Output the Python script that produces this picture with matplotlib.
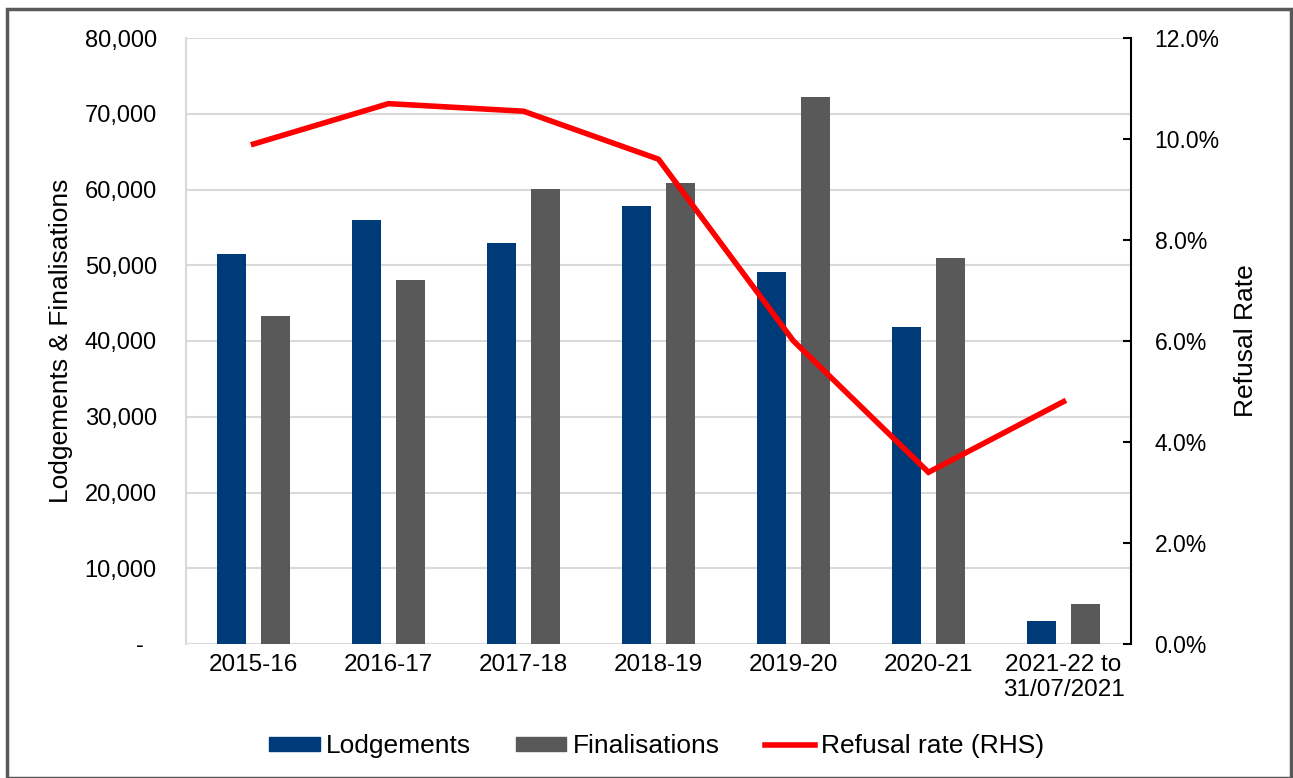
import matplotlib.pyplot as plt
import matplotlib.ticker as mticker
from matplotlib.patches import Rectangle
from matplotlib.lines import Line2D
import numpy as np

plt.rcParams["font.family"] = ["Liberation Sans", "DejaVu Sans"]

years = ["2015-16", "2016-17", "2017-18", "2018-19", "2019-20", "2020-21",
         "2021-22 to\n31/07/2021"]
lodgements = [51500, 56000, 53000, 57800, 49100, 41800, 3100]
finalisations = [43300, 48000, 60100, 60900, 72200, 51000, 5300]
refusal_rate = [9.9, 10.7, 10.55, 9.6, 6.0, 3.4, 4.8]

blue = "#003B79"
grey = "#595959"
red = "#FF0000"

fig = plt.figure(figsize=(12.93, 7.78), dpi=100)
ax = fig.add_axes([186 / 1293, 1 - 644 / 778, 945 / 1293, 606 / 778])
ax2 = ax.twinx()

x = np.arange(len(years))
w = 0.215
ax.bar(x - 0.163, lodgements, width=w, color=blue, zorder=3)
ax.bar(x + 0.163, finalisations, width=w, color=grey, zorder=3)

ax.set_xlim(-0.5, len(years) - 0.5)
ax.set_ylim(0, 80000)
ax.set_yticks(np.arange(0, 80001, 10000))
# accounting style: zero shown as a dash
ax.yaxis.set_major_formatter(mticker.FuncFormatter(
    lambda v, p: "-  " if v == 0 else f"{v:,.0f}"))
ax.grid(axis="y", color="#D9D9D9", linewidth=1.5, zorder=0)
ax.set_xticks(x)
ax.set_xticklabels(years, fontsize=17.5)
ax.tick_params(axis="y", length=0, labelsize=17, pad=21)
ax.tick_params(axis="x", length=0, pad=7)
ax.set_ylabel("Lodgements & Finalisations", fontsize=19, labelpad=8)
for s in ["top", "bottom", "right"]:
    ax.spines[s].set_visible(False)
ax.spines["left"].set_color("#D9D9D9")
ax.spines["left"].set_linewidth(1.5)

ax2.plot(x, refusal_rate, color=red, linewidth=4, solid_joinstyle="miter", zorder=4)
ax2.set_ylim(0, 12)
ax2.set_yticks(np.arange(0, 12.1, 2))
ax2.yaxis.set_major_formatter(mticker.FuncFormatter(lambda v, p: f"{v:.1f}%"))
ax2.tick_params(axis="y", direction="in", length=6, width=1.5, labelsize=16.5, pad=17)
ax2.set_ylabel("Refusal Rate", fontsize=19, labelpad=10)
for s in ["top", "bottom", "left"]:
    ax2.spines[s].set_visible(False)
ax2.spines["right"].set_linewidth(1.5)

handles = [
    Rectangle((0, 0), 1, 1, color=blue),
    Rectangle((0, 0), 1, 1, color=grey),
    Line2D([0], [0], color=red, linewidth=4),
]
fig.legend(handles, ["Lodgements", "Finalisations", "Refusal rate (RHS)"],
           loc="center", bbox_to_anchor=(657 / 1293, 1 - 746 / 778), ncol=3,
           frameon=False, fontsize=19, handlelength=1.9, handleheight=0.45,
           columnspacing=1.7, handletextpad=0.25)

fig.patches.append(Rectangle((7 / 1293, 0), 1 - 9 / 1293, 1 - 9 / 778,
                             transform=fig.transFigure, fill=False,
                             edgecolor="#595959", linewidth=2.5))

fig.savefig("out.png", dpi=100)
